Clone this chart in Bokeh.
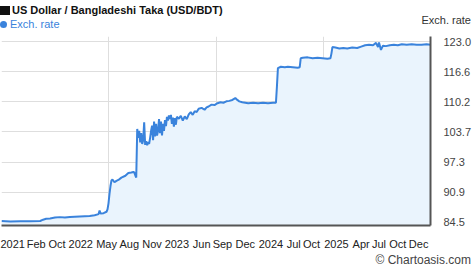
import numpy as np
from bokeh.plotting import figure
from bokeh.models import Range1d, FixedTicker, Div
from bokeh.layouts import column
from bokeh.embed import file_html
from bokeh.resources import INLINE

# ---- data -------------------------------------------------------------
title_text = "US Dollar / Bangladeshi Taka (USD/BDT)"
series_name = "Exch. rate"
axis_title = "Exch. rate"
credit = "\u00a9 Chartoasis.com"

# observation index (position along the time axis)
obs = [0, 9, 19, 29, 39, 42, 45, 49, 54, 59,
       64, 69, 74, 79, 84, 89, 94, 98, 99, 100,
       103, 106, 107, 108, 109, 110, 111, 112, 114, 116,
       118, 121, 125, 128, 131, 133, 134, 135, 136, 137,
       138, 139, 140, 141, 142, 143, 144, 145, 146, 147,
       148, 149, 150, 151, 152, 153, 154, 155, 156, 157,
       158, 159, 160, 161, 162, 163, 164, 165, 166, 167,
       168, 169, 170, 171, 172, 173, 174, 175, 176, 177,
       179, 181, 183, 185, 187, 189, 191, 193, 195, 197,
       199, 202, 205, 207, 209, 212, 215, 218, 221, 224,
       227, 230, 233, 236, 238, 240, 243, 246, 249, 254,
       259, 264, 269, 274, 277, 278, 279, 282, 286, 289,
       294, 299, 301, 302, 304, 309, 314, 319, 324, 329,
       332, 333, 334, 337, 341, 345, 349, 354, 359, 363,
       367, 371, 375, 378, 380, 381, 383, 385, 388, 392,
       396, 400, 404, 409, 414, 419, 424, 429, 433]
# USD/BDT exchange rate
rate = [84.70, 84.62, 84.68, 84.66, 84.72, 85.00, 85.20, 85.28, 85.45, 85.55,
        85.45, 85.60, 85.65, 85.70, 85.75, 85.80, 85.95, 86.20, 86.95, 86.30,
        86.40, 86.70, 87.20, 88.50, 90.50, 92.20, 93.40, 93.60, 93.00, 93.30,
        93.50, 94.00, 94.40, 95.00, 95.10, 95.20, 95.10, 94.50, 94.00, 104.40,
        102.50, 104.00, 101.50, 103.50, 101.20, 102.00, 105.80, 101.00, 101.80, 100.90,
        101.60, 101.20, 102.50, 104.00, 105.10, 102.00, 106.00, 102.80, 105.50, 103.00,
        104.00, 106.50, 103.50, 106.00, 103.00, 105.50, 104.00, 106.30, 105.00, 107.00,
        106.20, 107.30, 106.50, 107.40, 105.50, 106.80, 104.90, 106.70, 105.30, 107.00,
        106.60, 107.20, 106.20, 107.10, 106.50, 107.50, 108.00, 107.40, 108.20, 108.00,
        108.70, 108.90, 108.50, 109.00, 109.20, 109.60, 109.50, 109.90, 110.10, 110.00,
        110.30, 110.40, 110.60, 111.00, 110.60, 110.30, 110.10, 110.00, 109.90, 110.00,
        109.90, 110.00, 109.90, 110.00, 110.00, 113.50, 117.40, 117.70, 117.60, 117.70,
        117.60, 117.50, 117.60, 119.50, 119.60, 119.70, 119.50, 119.60, 119.50, 119.40,
        119.50, 120.50, 121.90, 121.80, 121.60, 121.70, 121.60, 121.80, 121.70, 122.00,
        122.30, 122.40, 122.30, 122.80, 121.90, 122.90, 121.30, 122.20, 122.10, 122.30,
        122.40, 122.30, 122.50, 122.40, 122.50, 122.40, 122.40, 122.50, 122.40]

x_tick_labels = ["2021", "Feb", "Oct", "2022", "May", "Aug", "Nov", "2023", "Jun", "Sep",
                 "Dec", "2024", "Jul", "Oct", "2025", "Apr", "Jul", "Oct", "Dec"]
y_tick_labels = ["84.5", "90.9", "97.3", "103.7", "110.2", "116.6", "123.0"]

# ---- axis layout (positions, not data) --------------------------------
x_tick_pos = [9, 35, 56, 80, 106, 129, 152, 177, 202, 223, 246, 272, 295, 313, 338, 363,
              381, 400, 421]
y_lo, y_hi = 84.5, 123.0
y_ticks = [float(v) for v in np.linspace(y_lo, y_hi, 7)]

FONT = "Liberation Sans"
LINE = "#3a83dc"
FILL = "#eaf4fd"

p = figure(width=474, height=218, output_backend="svg", toolbar_location=None,
           x_range=Range1d(0, 433), y_range=Range1d(83.76, 124.16),
           y_axis_location="right",
           min_border_left=1, min_border_right=40, min_border_top=2, min_border_bottom=24)
p.outline_line_color = None
p.background_fill_color = "white"
p.border_fill_color = "white"
p.margin = 0

p.varea(x=obs, y1=p.y_range.start, y2=rate, fill_color=FILL)
p.line(obs, rate, line_color=LINE, line_width=2)

# axes
for ax in (p.xaxis[0], p.yaxis[0]):
    ax.axis_line_color = "#555555"
    ax.axis_line_width = 2
    ax.major_tick_line_color = None
    ax.minor_tick_line_color = None
    ax.major_label_text_font = FONT
    ax.major_label_text_font_size = "11px"

p.xaxis.ticker = FixedTicker(ticks=x_tick_pos)
p.xaxis.major_label_overrides = {t: l for t, l in zip(x_tick_pos, x_tick_labels)}
p.xaxis.major_label_text_color = "#222222"
p.xaxis.major_label_standoff = 6

p.yaxis.ticker = FixedTicker(ticks=y_ticks)
p.yaxis.major_label_overrides = {t: l for t, l in zip(y_ticks, y_tick_labels)}
p.yaxis.major_label_text_color = "#444444"
p.yaxis.major_label_standoff = 7

# grids
p.xgrid.ticker = FixedTicker(ticks=[0, 433 / 4, 433 / 2, 433 * 3 / 4])
p.xgrid.grid_line_color = "#dedede"
p.ygrid.grid_line_color = "#dedede"

# ---- header (title, legend, axis title) and footer (credit) -----------
ff = "font-family:'Liberation Sans',Arial,sans-serif;white-space:nowrap;"
header_html = (
    f'<div style="position:relative;width:474px;height:34px;{ff}">'
    f'<div style="position:absolute;left:0px;top:3px;line-height:14px;font-size:11px;'
    f'font-weight:bold;color:#111;">'
    f'<span style="display:inline-block;width:10px;height:9px;background:#111;'
    f'margin-right:2px;vertical-align:-1px;"></span>{title_text}</div>'
    f'<div style="position:absolute;left:0px;top:17px;line-height:14px;font-size:11px;'
    f'color:{LINE};">'
    f'<span style="display:inline-block;width:7px;height:7px;border-radius:50%;'
    f'background:{LINE};margin-right:3px;vertical-align:0px;"></span>{series_name}</div>'
    f'<div style="position:absolute;right:3px;top:13px;line-height:14px;font-size:11px;'
    f'color:#333;">{axis_title}</div>'
    f'</div>'
)
footer_html = (
    f'<div style="position:relative;width:474px;height:17px;{ff}">'
    f'<div style="position:absolute;right:3px;top:1px;line-height:14px;font-size:12px;'
    f'color:#444;">{credit}</div></div>'
)
header = Div(text=header_html, width=474, height=34, margin=0)
footer = Div(text=footer_html, width=474, height=17, margin=0)

layout = column(header, p, footer, spacing=0, margin=0)
open("out.html", "w").write(file_html(layout, INLINE))
